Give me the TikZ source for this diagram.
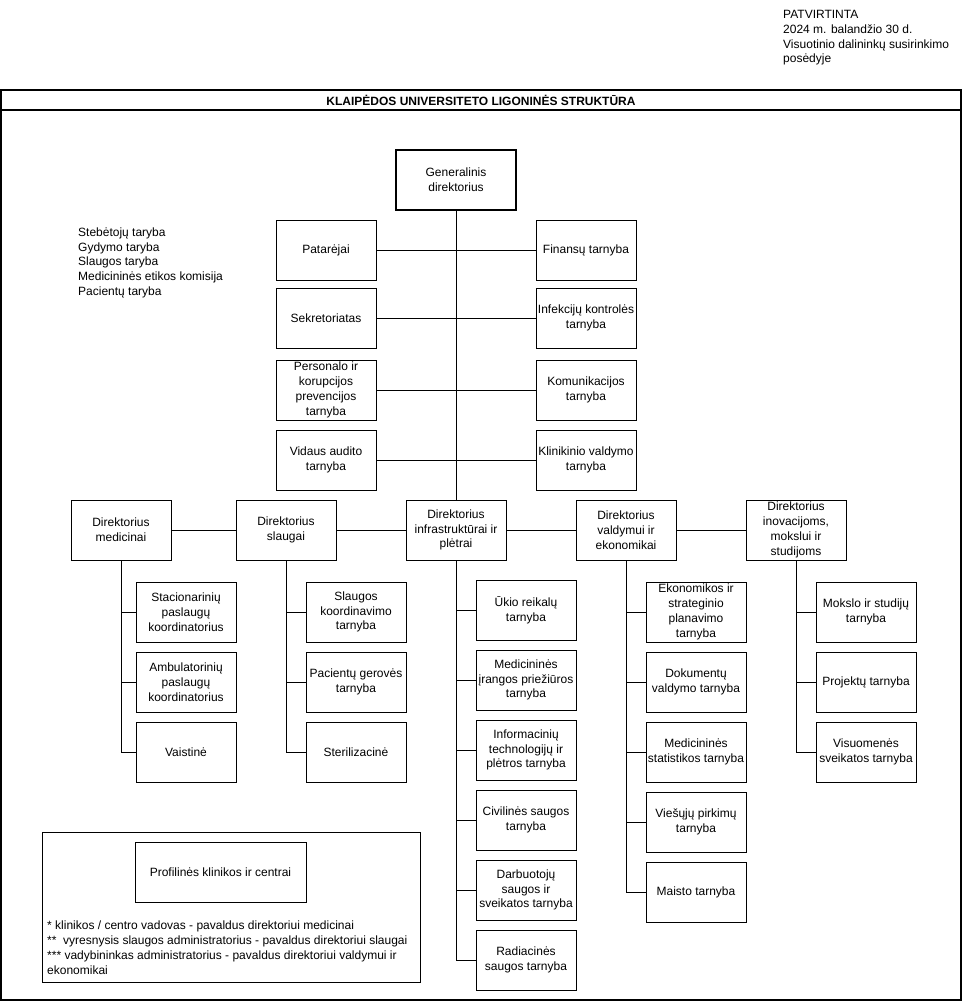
\documentclass[tikz,border=0pt]{standalone}
\usepackage{fontspec}
\setmainfont{Liberation Sans}
\usetikzlibrary{positioning}

\begin{document}
\begin{tikzpicture}[
            x=1pt, y=-1pt,
            font=\fontsize{12}{14.8}\selectfont,
            unit/.style   ={draw=black, line width=1pt, minimum width=100, minimum height=60,
                            inner sep=1pt, align=center},
            head/.style   ={unit, minimum width=120, line width=2pt},
            link/.style   ={draw=black, line width=1pt},
            frame/.style  ={draw=black, line width=1.3pt},
            plain/.style  ={inner sep=0pt, align=left, anchor=north west},
            title/.style  ={font=\fontsize{12}{14}\selectfont\bfseries}
        ]
        \useasboundingbox (0,0) rectangle (962,1001);

        % approval note and outer frame
        \node[plain] (note) at (783,10)
              {PATVIRTINTA\\2024 m. balandžio 30 d.\\Visuotinio dalininkų susirinkimo\\posėdyje};
        \draw[frame] (1,90) rectangle (961,1000);
        \draw[frame] (1,110) -- (961,110);
        \node[title] (ttl) at (481,100) {KLAIPĖDOS UNIVERSITETO LIGONINĖS STRUKTŪRA};

        \node[plain] (tarybos) at (78,227.5)
              {Stebėtojų taryba\\Gydymo taryba\\Slaugos taryba\\Medicininės etikos komisija\\Pacientų taryba};

        % general director and staff units
        \node[head] (gen) at (456,180) {Generalinis\\direktorius};

        \node[unit] (pat) at (326,250) {Patarėjai};
        \node[unit] (sek) at (326,318) {Sekretoriatas};
        \node[unit] (per) at (326,390) {Personalo ir\\korupcijos\\prevencijos\\tarnyba};
        \node[unit] (vid) at (326,460) {Vidaus audito\\tarnyba};

        \node[unit] (fin) at (586,250) {Finansų tarnyba};
        \node[unit] (ikt) at (586,318) {Infekcijų kontrolės\\tarnyba};
        \node[unit] (kom) at (586,390) {Komunikacijos\\tarnyba};
        \node[unit] (kli) at (586,460) {Klinikinio valdymo\\tarnyba};

        % directors row
        \node[unit] (med) at (121,530) {Direktorius\\medicinai};
        \node[unit] (sla) at (286,530) {Direktorius\\slaugai};
        \node[unit] (inf) at (456,530) {Direktorius\\infrastruktūrai ir\\plėtrai};
        \node[unit] (val) at (626,530) {Direktorius\\valdymui ir\\ekonomikai};
        \node[unit] (ino) at (796,530) {Direktorius\\inovacijoms,\\mokslui ir\\studijoms};

        % medicine
        \node[unit] (sta) at (186,612) {Stacionarinių\\paslaugų\\koordinatorius};
        \node[unit] (amb) at (186,682) {Ambulatorinių\\paslaugų\\koordinatorius};
        \node[unit] (vai) at (186,752) {Vaistinė};

        % nursing
        \node[unit] (skt) at (356,612) {Slaugos\\koordinavimo\\tarnyba};
        \node[unit] (pgt) at (356,682) {Pacientų gerovės\\tarnyba};
        \node[unit] (ste) at (356,752) {Sterilizacinė};

        % infrastructure
        \node[unit] (uki) at (526,610) {Ūkio reikalų\\tarnyba};
        \node[unit] (mip) at (526,680) {Medicininės\\įrangos priežiūros\\tarnyba};
        \node[unit] (itp) at (526,750) {Informacinių\\technologijų ir\\plėtros tarnyba};
        \node[unit] (civ) at (526,820) {Civilinės saugos\\tarnyba};
        \node[unit] (dss) at (526,890) {Darbuotojų\\saugos ir\\sveikatos tarnyba};
        \node[unit] (rad) at (526,960) {Radiacinės\\saugos tarnyba};

        % management and economics
        \node[unit] (esp) at (696,612) {Ekonomikos ir\\strateginio\\planavimo\\tarnyba};
        \node[unit] (dok) at (696,682) {Dokumentų\\valdymo tarnyba};
        \node[unit] (mst) at (696,752) {Medicininės\\statistikos tarnyba};
        \node[unit] (vpt) at (696,822) {Viešųjų pirkimų\\tarnyba};
        \node[unit] (mai) at (696,892) {Maisto tarnyba};

        % innovation, science and studies
        \node[unit] (mok) at (866,612) {Mokslo ir studijų\\tarnyba};
        \node[unit] (pro) at (866,682) {Projektų tarnyba};
        \node[unit] (vst) at (866,752) {Visuomenės\\sveikatos tarnyba};

        % legend
        \node[draw=black, line width=1pt, minimum width=378, minimum height=150] (leg) at (231,907) {};
        \node[unit, minimum width=171] (pkc) at (220.5,872) {Profilinės klinikos ir centrai};
        \node[plain] (pastabos) at (47,921)
              {* klinikos / centro vadovas - pavaldus direktoriui medicinai\\
               **\ \ vyresnysis slaugos administratorius - pavaldus direktoriui slaugai\\
               *** vadybininkas administratorius - pavaldus direktoriui valdymui ir\\
               ekonomikai};

        % connectors
        \draw[link] (gen.south) -- (inf.north);
        \draw[link] (pat.east) -- (fin.west);
        \draw[link] (sek.east) -- (ikt.west);
        \draw[link] (per.east) -- (kom.west);
        \draw[link] (vid.east) -- (kli.west);

        \draw[link] (med.east) -- (sla.west);
        \draw[link] (sla.east) -- (inf.west);
        \draw[link] (inf.east) -- (val.west);
        \draw[link] (val.east) -- (ino.west);

        \foreach \b in {sta,amb,vai} \draw[link] (med.south) |- (\b.west);
        \foreach \b in {skt,pgt,ste} \draw[link] (sla.south) |- (\b.west);
        \foreach \b in {uki,mip,itp,civ,dss,rad} \draw[link] (inf.south) |- (\b.west);
        \foreach \b in {esp,dok,mst,vpt,mai} \draw[link] (val.south) |- (\b.west);
        \foreach \b in {mok,pro,vst} \draw[link] (ino.south) |- (\b.west);

    \end{tikzpicture}
\end{document}
